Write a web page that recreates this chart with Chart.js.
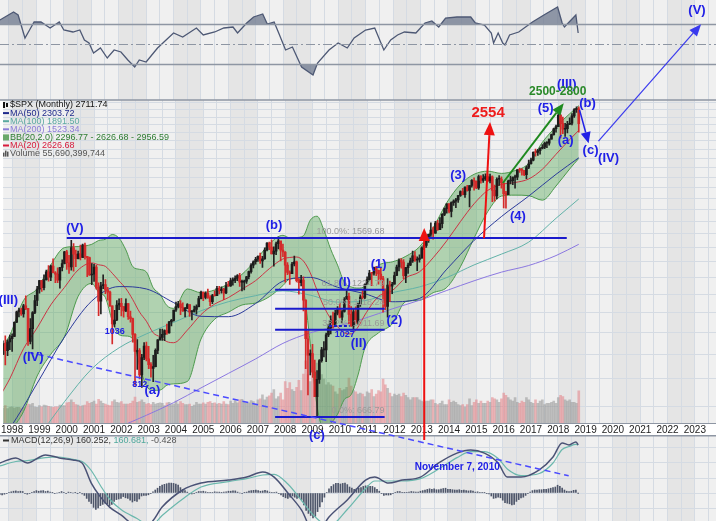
<!DOCTYPE html>
<html><head><meta charset="utf-8">
<script src="https://cdn.jsdelivr.net/npm/chart.js@4.4.1/dist/chart.umd.min.js"></script>
<style>
html,body{margin:0;padding:0;background:#fff;}
#wrap{position:relative;width:716px;height:521px;overflow:hidden;}
canvas{position:absolute;left:0;}
#rsi{top:0;z-index:1}
#macd{top:435px;z-index:1}
#main{top:0;z-index:2}
</style></head><body>
<div id="wrap">
<canvas id="rsi" width="716" height="100"></canvas>
<canvas id="macd" width="716" height="86"></canvas>
<canvas id="main" width="716" height="521"></canvas>
</div>
<script>
// ================= DATA (monthly $SPX, Aug 1997 - Oct 2018) =================
const START_YEAR = 1997, START_MONTH = 8;
const FIRST_OPEN = 954;
const CLOSE = [
 899,947,915,955,970,
 980,1049,1102,1112,1091,1134,1121,957,1017,1099,1164,1229,
 1280,1238,1286,1335,1302,1373,1329,1320,1283,1363,1389,1469,
 1394,1366,1499,1452,1421,1455,1431,1518,1437,1429,1315,1320,
 1366,1240,1160,1249,1256,1224,1211,1134,1041,1060,1139,1148,
 1130,1107,1147,1077,1067,990,912,916,815,886,936,880,
 856,841,848,917,964,975,990,1008,996,1051,1058,1112,
 1131,1145,1126,1107,1121,1141,1102,1104,1115,1130,1174,1212,
 1181,1204,1181,1157,1192,1191,1234,1220,1229,1207,1249,1248,
 1280,1281,1295,1311,1270,1270,1277,1304,1336,1378,1401,1418,
 1438,1407,1421,1482,1531,1503,1455,1474,1527,1549,1481,1468,
 1379,1331,1323,1386,1400,1280,1267,1283,1166,969,896,903,
 826,735,798,873,919,919,987,1021,1057,1036,1096,1115,
 1074,1104,1169,1187,1089,1031,1102,1049,1141,1183,1181,1258,
 1286,1327,1326,1364,1345,1321,1292,1219,1131,1253,1247,1258,
 1312,1366,1408,1398,1310,1362,1379,1407,1441,1412,1416,1426,
 1498,1515,1569,1598,1631,1606,1686,1633,1682,1757,1806,1848,
 1783,1859,1872,1884,1924,1960,1931,2003,1972,2018,2068,2059,
 1995,2105,2068,2086,2107,2063,2104,1972,1920,2079,2080,2044,
 1940,1932,2060,2065,2097,2099,2174,2171,2168,2126,2199,2239,
 2279,2364,2363,2384,2412,2423,2470,2472,2519,2575,2648,2674,
 2824,2714,2641,2648,2705,2718,2816,2902,2914,2711.74
];
const HIGH = [
 961,960,983,964,986,
 992,1051,1106,1123,1122,1143,1190,1121,1067,1104,1193,1245,
 1282,1282,1316,1347,1376,1379,1421,1336,1361,1364,1414,1473,
 1479,1445,1553,1528,1481,1475,1517,1525,1531,1437,1433,1389,
 1383,1377,1267,1269,1316,1286,1239,1218,1135,1111,1164,1173,
 1176,1131,1173,1147,1106,1070,994,965,925,900,952,954,
 935,865,895,924,965,1015,1015,1011,1040,1053,1063,1112,
 1155,1159,1164,1151,1127,1147,1141,1109,1133,1140,1188,1217,
 1212,1213,1229,1192,1199,1219,1246,1245,1243,1233,1270,1275,
 1295,1297,1310,1318,1326,1284,1283,1306,1340,1389,1407,1431,
 1441,1461,1438,1498,1535,1540,1556,1504,1539,1576,1545,1524,
 1471,1396,1342,1397,1440,1405,1292,1313,1304,1167,1007,919,
 944,875,832,877,930,956,996,1039,1081,1101,1111,1130,
 1150,1112,1180,1220,1206,1131,1120,1129,1150,1196,1227,1263,
 1303,1344,1332,1366,1371,1346,1357,1307,1230,1293,1277,1270,
 1333,1378,1420,1422,1415,1364,1392,1426,1475,1471,1434,1448,
 1504,1531,1570,1600,1687,1654,1699,1709,1730,1765,1814,1849,
 1850,1867,1884,1897,1925,1968,1991,2005,2019,2018,2075,2094,
 2064,2120,2117,2125,2135,2130,2132,2113,2021,2094,2117,2104,
 2038,1962,2072,2111,2103,2120,2178,2194,2188,2169,2214,2278,
 2300,2371,2401,2399,2419,2454,2484,2491,2520,2582,2657,2694,
 2873,2835,2801,2718,2742,2791,2848,2917,2941,2940
];
const LOW = [
 893,898,855,894,920,
 912,979,1047,1076,1084,1075,1114,939,946,923,1093,1136,
 1205,1216,1225,1282,1277,1280,1328,1268,1268,1234,1341,1387,
 1350,1325,1346,1339,1369,1420,1413,1429,1419,1305,1312,1255,
 1275,1228,1082,1092,1232,1203,1165,1131,945,1026,1057,1114,
 1081,1074,1103,1063,1049,953,776,837,800,768,877,872,
 840,806,789,847,902,963,962,960,990,995,1031,1054,
 1105,1123,1088,1105,1076,1119,1079,1060,1101,1090,1128,1173,
 1163,1173,1176,1136,1146,1188,1191,1201,1205,1168,1202,1245,
 1245,1253,1268,1280,1245,1219,1224,1263,1290,1327,1360,1385,
 1403,1389,1364,1416,1476,1484,1454,1371,1449,1489,1407,1435,
 1270,1317,1257,1324,1373,1272,1200,1248,1107,840,741,815,
 805,735,667,783,866,888,869,979,992,1020,1029,1086,
 1071,1045,1101,1170,1041,1028,1011,1040,1039,1131,1173,1174,
 1257,1282,1249,1314,1311,1259,1282,1101,1114,1075,1158,1203,
 1258,1310,1341,1358,1292,1267,1325,1375,1396,1403,1343,1398,
 1426,1485,1501,1536,1581,1560,1604,1627,1633,1647,1746,1767,
 1770,1737,1834,1814,1860,1915,1930,1905,1964,1821,2001,1973,
 1988,1980,2040,2048,2068,2056,2044,1867,1872,1893,2019,1993,
 1812,1810,1937,2034,2025,1992,2074,2148,2120,2115,2084,2187,
 2234,2271,2322,2329,2344,2404,2407,2418,2446,2520,2566,2605,
 2683,2533,2585,2553,2595,2699,2698,2796,2864,2604
];
// volume, billions of shares
const VOLUME_B = [
 24,26,30,25,27,
 28,26,27,27,25,27,28,33,32,34,28,27,
 30,28,31,30,29,28,27,28,28,31,30,30,
 35,36,40,36,32,31,29,30,31,37,34,36,
 38,33,41,38,34,33,31,30,37,40,36,35,
 37,33,33,33,34,38,45,36,37,40,36,33,
 34,32,36,33,34,35,34,30,35,36,32,33,
 38,33,37,34,32,32,33,29,31,36,33,33,
 35,33,36,37,34,35,33,34,33,37,33,32,
 38,34,39,35,40,41,36,34,35,39,37,33,
 40,42,49,40,45,47,52,58,42,46,52,40,
 72,60,70,58,55,62,74,56,85,108,84,72,
 78,86,104,92,84,76,66,70,66,64,54,50,
 60,56,58,62,78,64,56,54,50,52,50,46,
 54,52,58,46,50,56,54,76,66,60,52,46,
 50,48,50,46,52,48,44,40,44,44,44,40,
 38,36,38,38,40,40,34,32,34,38,32,32,
 40,36,38,36,32,30,32,28,32,42,30,36,
 40,34,38,34,34,38,36,44,42,40,36,42,
 52,48,44,40,38,44,36,34,38,36,44,40,
 36,34,40,34,38,40,32,34,34,36,38,34,
 44,48,46,40,38,40,36,36,34,55.69
];
const MACD_HIST = [
 -3,-5,-6,-4,-2,
 1,4,6,7,5,6,5,-2,-4,-2,2,5,
 8,6,7,8,5,6,3,1,-2,0,2,5,
 2,-2,3,2,0,1,-1,2,-3,-8,-18,-28,
 -35,-48,-55,-50,-42,-38,-34,-36,-42,-38,-28,-22,
 -20,-18,-12,-16,-18,-24,-30,-26,-28,-20,-10,-8,
 -8,-6,-2,4,10,16,22,26,29,31,33,33,
 32,30,26,18,12,8,3,-1,-3,-2,2,5,
 5,6,4,1,2,2,4,3,3,1,3,4,
 6,6,7,7,3,0,-1,1,3,6,8,9,
 10,8,6,7,9,7,3,1,2,3,-2,-6,
 -12,-16,-18,-14,-10,-14,-18,-16,-22,-40,-58,-68,
 -75,-83,-78,-62,-46,-30,-14,2,14,22,28,32,
 32,30,32,33,28,20,16,12,14,16,18,22,
 24,24,22,22,18,12,6,-2,-8,-6,-7,-6,
 -2,2,5,5,1,1,2,3,5,4,3,3,
 6,8,10,12,14,12,14,11,11,13,15,16,
 12,12,11,10,10,11,9,10,8,7,8,6,
 3,4,2,1,1,-2,-3,-10,-18,-16,-14,-16,
 -24,-32,-34,-36,-40,-38,-28,-22,-16,-14,-8,-2,
 3,8,10,10,11,11,12,12,14,16,18,20,
 26,22,16,10,6,5,6,9,10,-0.43
];

const BB_DATES = ['1997-08','1997-12','1998-06','1998-12','1999-06','1999-12','2000-06','2000-12','2001-03','2001-06','2001-09','2001-12','2002-03','2002-06','2002-09','2002-12','2003-03','2003-06','2003-09','2003-12','2004-06','2004-12','2005-06','2005-12','2006-06','2006-12','2007-06','2007-12','2008-03','2008-06','2008-09','2008-12','2009-03','2009-06','2009-09','2009-12','2010-03','2010-06','2010-09','2010-12','2011-06','2011-12','2012-06','2012-12','2013-06','2013-12','2014-06','2014-12','2015-06','2015-12','2016-06','2016-12','2017-06','2017-12','2018-06','2018-10'];
const MA20 = [741,801,924,1021,1140,1239,1347,1393,1381,1370,1326,1278,1232,1169,1101,1054,997,978,956,951,1010,1088,1144,1180,1229,1280,1355,1420,1430,1433,1406,1329,1222,1130,1067,1027,997,992,1025,1086,1187,1220,1298,1335,1428,1549,1698,1849,1971,2028,2047,2082,2181,2343,2514,2627];
const BB_UPPER = [925,986,1164,1231,1380,1499,1507,1523,1551,1560,1596,1568,1482,1369,1351,1334,1237,1198,1136,1121,1230,1208,1224,1260,1319,1410,1525,1590,1570,1573,1586,1709,1742,1630,1487,1379,1269,1242,1235,1246,1377,1400,1438,1505,1648,1859,2028,2129,2161,2138,2167,2242,2481,2673,2844,2957];
const BB_LOWER = [557,616,684,811,900,979,1187,1263,1211,1180,1056,988,982,969,851,774,757,758,776,781,790,968,1064,1100,1139,1150,1185,1250,1290,1293,1226,949,702,630,647,675,725,742,815,926,997,1040,1158,1165,1208,1239,1368,1569,1781,1918,1927,1922,1881,2013,2184,2297];

const MA50_DATES = ['1997-08','1997-12','1998-12','1999-12','2000-12','2001-12','2002-12','2003-12','2004-12','2005-12','2006-12','2007-12','2008-12','2009-12','2010-12','2011-12','2012-12','2013-12','2014-12','2015-12','2016-12','2017-12','2018-10'];
const MA50 = [600,632,783,977,1161,1244,1230,1152,1079,1077,1147,1277,1300,1240,1202,1157,1175,1352,1552,1739,1918,2129,2304];
const MA100_DATES = ['1998-12','1999-12','2000-12','2001-12','2002-12','2003-12','2004-12','2005-12','2006-12','2007-12','2008-12','2009-12','2010-12','2011-12','2012-12','2013-12','2014-12','2015-12','2016-12','2017-12','2018-10'];
const MA100 = [600,717,839,928,992,1048,1108,1157,1191,1219,1194,1155,1163,1208,1242,1299,1380,1453,1539,1725,1892];
const MA200_DATES = ['2001-12','2002-12','2003-12','2004-12','2005-12','2006-12','2007-12','2008-12','2009-12','2010-12','2011-12','2012-12','2013-12','2014-12','2015-12','2016-12','2017-12','2018-10'];
const MA200 = [635,672,714,766,821,880,948,997,1029,1069,1118,1165,1221,1279,1333,1376,1443,1523];

const RSI_DATES = ['1997-09','1998-03','1998-05','1998-08','1998-10','1998-12','1999-03','1999-07','1999-11','2000-01','2000-05','2000-08','2000-10','2000-12','2001-02','2001-05','2001-08','2001-11','2002-02','2002-05','2002-08','2002-10','2003-01','2003-06','2004-01','2004-05','2004-11','2005-02','2005-07','2005-11','2006-03','2006-05','2006-09','2006-12','2007-04','2007-06','2007-09','2007-11','2008-02','2008-05','2008-09','2009-02','2009-04','2009-09','2010-01','2010-05','2010-08','2011-01','2011-05','2011-09','2011-12','2012-03','2012-06','2012-11','2013-03','2013-06','2013-09','2013-12','2014-05','2014-11','2015-01','2015-05','2015-08','2015-09','2015-11','2016-01','2016-02','2016-04','2016-08','2016-11','2017-02','2017-07','2018-01','2018-03','2018-04','2018-09','2018-10'];
const RSI = [74,82,79,56,64,72,72,66,72,64,62,64,54,51,41,46,36,44,42,34,27,34,32,46,61,57,66,59,62,66,67,61,71,77,80,70,72,61,44,47,27,19,31,44,51,46,56,64,66,44,54,59,62,61,71,73,67,76,77,77,71,69,61,51,61,51,49,59,62,67,72,79,87,71,67,79,61];

const MACD_DATES = ['1997-09','1998-04','1998-09','1999-05','1999-11','2000-05','2000-09','2001-01','2001-05','2001-09','2002-02','2002-09','2003-03','2003-08','2004-05','2005-01','2006-01','2006-09','2007-04','2007-09','2008-03','2008-09','2009-03','2009-09','2010-05','2011-01','2011-05','2011-11','2012-05','2013-01','2013-09','2014-05','2014-11','2015-05','2015-11','2016-03','2016-09','2017-05','2017-11','2018-03','2018-06','2018-09','2018-10'];
const MACD_LINE = [100,117,100,127,117,110,100,33,-13,-47,-73,-110,-100,-47,10,33,43,53,70,53,0,-57,-140,-80,-23,43,53,33,43,53,100,133,143,133,100,53,53,77,120,167,160,170,160.25];
const MACD_SIGNAL = [90,105,108,118,120,112,105,75,25,-20,-55,-85,-110,-75,-20,20,38,48,60,62,30,-25,-80,-110,-55,15,40,40,40,48,80,118,138,138,115,80,58,65,100,145,155,162,160.68];

const YEAR_TICKS = [1998,1999,2000,2001,2002,2003,2004,2005,2006,2007,2008,2009,2010,2011,2012,2013,2014,2015,2016,2017,2018,2019,2020,2021,2022,2023];
const PRICE_GRID = [700,800,900,1000,1100,1200,1300,1400,1500,1600,1700,1800,1900,2000,2100,2200,2300,2400,2500,2600,2700,2800,2900,3000];
const SHADED_YEARS = [1998,2000,2002,2004,2006,2008,2010,2012,2014,2016,2018,2020,2022];

// ================= helpers =================
const XMIN = 1997.673, XMAX = 2023.775;
const FONT = '"Liberation Sans", Arial, sans-serif';
const toDec = s => { const [y,m] = s.split('-').map(Number); return y + (m-1)/12; };
const pts = (d, v) => d.map((s,i)=>({x:toDec(s), y:v[i]}));
const MX = CLOSE.map((_,i)=> START_YEAR + (START_MONTH-1+i)/12);
const OPEN = CLOSE.map((c,i)=> i===0 ? FIRST_OPEN : CLOSE[i-1]);
const UP = CLOSE.map((c,i)=> c >= OPEN[i]);
const GRID_X = [];
for (let y = 1998; y <= 2023.5; y += 0.5) GRID_X.push(y);

function xScale(labels){
  return {
    type:'linear', min:XMIN, max:XMAX, offset:false,
    afterBuildTicks: s => { s.ticks = GRID_X.map(v=>({value:v})); },
    afterFit: s => { s.height = labels ? 12 : 0; },
    grid:{color:'#d5dbe3', lineWidth:1, drawTicks:false, offset:false},
    border:{display:labels, color:'#8e96a3', width:1},
    ticks:{display:labels, autoSkip:false, maxRotation:0, minRotation:0, padding:1, color:'#222',
      font:{size:10, family:FONT},
      callback: v => YEAR_TICKS.includes(v) ? String(v) : ''}
  };
}
function bands(c){
  const {ctx, chartArea:a, scales:{x}} = c;
  ctx.save();
  ctx.fillStyle = '#f0f0f0';
  ctx.fillRect(a.left, a.top, a.width, a.height);
  ctx.fillStyle = '#e5e5e5';
  for (const yr of SHADED_YEARS){
    const x0 = Math.max(a.left, x.getPixelForValue(yr));
    const x1 = Math.min(a.right, x.getPixelForValue(yr+1));
    if (x1 > x0) ctx.fillRect(x0, a.top, x1-x0, a.height);
  }
  ctx.restore();
}
function arrow(ctx, x0,y0,x1,y1, color, lw, hl, hw){
  const a = Math.atan2(y1-y0, x1-x0);
  const bx = x1 - hl*Math.cos(a), by = y1 - hl*Math.sin(a);
  ctx.strokeStyle = color; ctx.lineWidth = lw; ctx.setLineDash([]);
  ctx.beginPath(); ctx.moveTo(x0,y0); ctx.lineTo(bx,by); ctx.stroke();
  ctx.fillStyle = color; ctx.beginPath(); ctx.moveTo(x1,y1);
  ctx.lineTo(bx + hw/2*Math.sin(a), by - hw/2*Math.cos(a));
  ctx.lineTo(bx - hw/2*Math.sin(a), by + hw/2*Math.cos(a));
  ctx.closePath(); ctx.fill();
}
const common = {responsive:false, animation:false, devicePixelRatio:1, events:[],
  plugins:{legend:{display:false}, tooltip:{enabled:false}}};

// ================= annotations (data coordinates) =================
const BLUE = '#2020e6';
const WAVE_LABELS = [
 ['(III)',1997.86,1166],['(V)',2000.30,1646],['(IV)',1998.77,888],['(a)',2003.14,758],
 ['(b)',2007.59,1670],['(c)',2009.16,611],['(I)',2010.18,1271],['(1)',2011.42,1386],
 ['(2)',2012.0,1060],['(II)',2010.69,949],['(3)',2014.33,2121],['(4)',2016.52,1743],
 ['(5)',2017.54,2923],['(III)',2018.31,3279],['(b)',2019.07,2992],['(a)',2018.27,2507],
 ['(c)',2019.18,2390],['(IV)',2019.84,2300],['(V)',2023.08,4671]
];
const SMALL_LABELS = [['1036',2001.76,1001],['812',2002.67,777],['1027',2010.18,987]];
const FIB = [['100.0%: 1569.68',1569.68],['61.8%: 1224.79',1224.79],['50.0%: 1118.24',1118.24],['38.2%: 1011.69',1011.69],['0.0%: 666.79',666.79]];

const mainDecor = {
  id:'mainDecor',
  beforeDraw(c){ bands(c); },
  afterDraw(c){
    const {ctx, chartArea:a, scales:{x, y}} = c;
    const X = v => x.getPixelForValue(v), Y = p => y.getPixelForValue(p);
    ctx.save();
    // panel top border
    ctx.strokeStyle = '#8e96a3'; ctx.lineWidth = 1.5;
    ctx.beginPath(); ctx.moveTo(0, a.top); ctx.lineTo(716, a.top); ctx.stroke();
    // long resistance line
    ctx.strokeStyle = '#1a1acc'; ctx.lineWidth = 2;
    ctx.beginPath(); ctx.moveTo(X(2000.0), Y(1569.68)); ctx.lineTo(X(2018.31), Y(1569.68)); ctx.stroke();
    // fib lines
    for (const [t,p] of FIB.slice(1)){
      ctx.beginPath(); ctx.moveTo(X(2007.63), Y(p)); ctx.lineTo(X(2011.64), Y(p)); ctx.stroke();
    }
    ctx.fillStyle = '#9a9a9a'; ctx.font = '9px ' + FONT; ctx.textAlign = 'right'; ctx.textBaseline = 'bottom';
    for (const [t,p] of FIB) ctx.fillText(t, X(2011.64), Y(p) - 2);
    // short dashed 1027 marker
    ctx.strokeStyle = '#1a1acc'; ctx.lineWidth = 2; ctx.setLineDash([3,2]);
    ctx.beginPath(); ctx.moveTo(X(2009.6), Y(1030)); ctx.lineTo(X(2010.36), Y(1030)); ctx.stroke();
    // dashed trend line
    ctx.strokeStyle = '#4a4aff'; ctx.lineWidth = 1.5; ctx.setLineDash([6,4]);
    ctx.beginPath(); ctx.moveTo(X(1998.58), Y(909)); ctx.lineTo(X(2018.38), Y(503)); ctx.stroke();
    ctx.setLineDash([]);
    // arrows
    arrow(ctx, X(2013.09), Y(597), X(2013.09), Y(1646), '#ee1111', 2, 13, 11);
    arrow(ctx, X(2015.28), Y(1568), X(2015.5), Y(2733), '#ee1111', 2, 13, 11);
    arrow(ctx, X(2015.97), Y(2042), X(2018.2), Y(2992), '#1f8a1f', 2, 12, 10);
    arrow(ctx, X(2018.78), Y(2894), X(2019.11), Y(2471), BLUE, 1.5, 11, 10);
    arrow(ctx, X(2019.47), Y(2495), X(2023.23), Y(4367), '#3a3aee', 1.2, 12, 10);
    // labels
    ctx.textAlign = 'center'; ctx.textBaseline = 'middle';
    ctx.fillStyle = BLUE; ctx.font = 'bold 13px ' + FONT;
    for (const [t,d,p] of WAVE_LABELS) ctx.fillText(t, X(d), Y(p));
    ctx.font = 'bold 9px ' + FONT;
    for (const [t,d,p] of SMALL_LABELS) ctx.fillText(t, X(d), Y(p));
    ctx.font = 'bold 10px ' + FONT;
    ctx.fillText('November 7, 2010', X(2014.3), Y(524));
    ctx.fillStyle = '#2a8a2a'; ctx.font = 'bold 12px ' + FONT;
    ctx.fillText('2500-2800', X(2017.98), Y(3155));
    ctx.fillStyle = '#ee1c1c'; ctx.font = 'bold 15px ' + FONT;
    ctx.fillText('2554', X(2015.43), Y(2854));
    // legend
    const L = [
      ['$SPX (Monthly) 2711.74','#111','bar'],
      ['MA(50) 2303.72','#1f2a8c','line'],
      ['MA(100) 1891.50','#5aa9a0','line'],
      ['MA(200) 1523.34','#8c7cd8','line'],
      ['BB(20,2.0) 2296.77 - 2626.68 - 2956.59','#2e7d32','bb'],
      ['MA(20) 2626.68','#d81b3c','line'],
      ['Volume 55,690,399,744','#555','vol']
    ];
    ctx.font = '9px ' + FONT; ctx.textAlign = 'left'; ctx.textBaseline = 'middle';
    L.forEach(([t,col,k],i)=>{
      const yy = 105 + i*8.1;
      ctx.fillStyle = col; ctx.strokeStyle = col;
      if (k === 'line'){ ctx.lineWidth = 2; ctx.beginPath(); ctx.moveTo(3,yy); ctx.lineTo(9,yy); ctx.stroke(); }
      else if (k === 'bar'){ ctx.fillRect(3,yy-3,2,6); ctx.fillRect(6,yy-2,2,4); }
      else if (k === 'bb'){ ctx.fillStyle='#6aa96a'; ctx.fillRect(3,yy-3,6,6); ctx.fillStyle = col; }
      else { ctx.fillRect(3,yy-1,1.5,4); ctx.fillRect(5,yy-3,1.5,6); ctx.fillRect(7,yy-2,1.5,5); }
      ctx.fillText(t, 10, yy);
    });
    ctx.restore();
  }
};

// ================= main price panel =================
new Chart(document.getElementById('main'), {
  type:'line',
  data:{datasets:[
    {type:'bar', label:'Volume', yAxisID:'yv', order:10, grouped:false, barThickness:2,
     data: MX.map((x,i)=>({x, y:VOLUME_B[i]})),
     backgroundColor: UP.map(u => u ? 'rgba(150,150,150,0.55)' : 'rgba(228,130,135,0.55)')},
    {label:'BB upper', order:9, data: pts(BB_DATES, BB_UPPER), borderColor:'#4f9a4f', borderWidth:1,
     pointRadius:0, cubicInterpolationMode:'monotone', fill:'+1', backgroundColor:'rgba(70,160,70,0.38)'},
    {label:'BB lower', order:9, data: pts(BB_DATES, BB_LOWER), borderColor:'#4f9a4f', borderWidth:1,
     pointRadius:0, cubicInterpolationMode:'monotone', fill:false},
    {label:'MA200', order:6, data: pts(MA200_DATES, MA200), borderColor:'#8b78e0', borderWidth:1, pointRadius:0, cubicInterpolationMode:'monotone', fill:false},
    {label:'MA100', order:6, data: pts(MA100_DATES, MA100), borderColor:'#62b2a8', borderWidth:1, pointRadius:0, cubicInterpolationMode:'monotone', fill:false},
    {label:'MA50', order:5, data: pts(MA50_DATES, MA50), borderColor:'#2b3a9a', borderWidth:1, pointRadius:0, cubicInterpolationMode:'monotone', fill:false},
    {label:'MA20', order:5, data: pts(BB_DATES, MA20), borderColor:'#cc3344', borderWidth:1, pointRadius:0, cubicInterpolationMode:'monotone', fill:false},
    {type:'bar', label:'wick', order:2, grouped:false, barThickness:1,
     data: MX.map((x,i)=>({x, y:[LOW[i], HIGH[i]]})),
     backgroundColor: UP.map(u => u ? '#222' : '#d42a2a')},
    {type:'bar', label:'body', order:1, grouped:false, barThickness:2, minBarLength:1,
     data: MX.map((x,i)=>({x, y:[OPEN[i], CLOSE[i]]})),
     backgroundColor: UP.map(u => u ? '#1c1c1c' : '#d42a2a')}
  ]},
  options:{...common,
    layout:{padding:{top:100, bottom:86, left:0, right:0}},
    scales:{
      x: xScale(true),
      y: {type:'logarithmic', min:647.6, max:3038, display:true, beginAtZero:false,
          afterBuildTicks: s => { s.ticks = PRICE_GRID.map(v=>({value:v})); },
          afterFit: s => { s.width = 0; },
          grid:{color:'#d5dbe3', drawTicks:false}, border:{display:false}, ticks:{display:false}},
      yv: {type:'linear', min:0, max:560, display:false}
    }
  },
  plugins:[mainDecor]
});

// ================= RSI panel =================
const rsiDecor = {
  id:'rsiDecor',
  beforeDraw(c){ bands(c); },
  afterDatasetsDraw(c){
    const {ctx, scales:{y}} = c;
    ctx.save(); ctx.strokeStyle = '#8e96a3';
    for (const v of [70,30]){ ctx.lineWidth=1.5; ctx.beginPath(); ctx.moveTo(0,Math.round(y.getPixelForValue(v))+0.5); ctx.lineTo(716,Math.round(y.getPixelForValue(v))+0.5); ctx.stroke(); }
    ctx.lineWidth = 1; ctx.setLineDash([9,3,2,3]);
    ctx.beginPath(); ctx.moveTo(0,Math.round(y.getPixelForValue(50))+0.5); ctx.lineTo(716,Math.round(y.getPixelForValue(50))+0.5); ctx.stroke();
    ctx.restore();
  }
};
new Chart(document.getElementById('rsi'), {
  type:'line',
  data:{datasets:[
    {data: pts(RSI_DATES, RSI), borderColor:'#4d5874', borderWidth:1.3, pointRadius:0, tension:0,
     fill:{target:{value:70}, above:'rgba(110,120,142,0.75)', below:'rgba(0,0,0,0)'}},
    {data: pts(RSI_DATES, RSI), borderColor:'rgba(0,0,0,0)', borderWidth:0, pointRadius:0, tension:0,
     fill:{target:{value:30}, above:'rgba(0,0,0,0)', below:'rgba(110,120,142,0.75)'}}
  ]},
  options:{...common,
    scales:{ x: xScale(false), y:{type:'linear', min:-6, max:94, display:false} }
  },
  plugins:[rsiDecor]
});

// ================= MACD panel =================
const macdDecor = {
  id:'macdDecor',
  beforeDraw(c){ bands(c); },
  afterDraw(c){
    const {ctx} = c;
    ctx.save();
    ctx.strokeStyle = '#8e96a3'; ctx.lineWidth = 1.5;
    ctx.beginPath(); ctx.moveTo(0,0.75); ctx.lineTo(716,0.75); ctx.stroke();
    ctx.strokeStyle = '#333'; ctx.lineWidth = 2;
    ctx.beginPath(); ctx.moveTo(3,5.5); ctx.lineTo(9,5.5); ctx.stroke();
    ctx.font = '9px ' + FONT; ctx.textBaseline = 'middle'; ctx.textAlign = 'left';
    let xx = 11;
    for (const [t,col] of [['MACD(12,26,9) 160.252, ','#333'],['160.681, ','#4fa89c'],['-0.428','#555']]){
      ctx.fillStyle = col; ctx.fillText(t, xx, 6); xx += ctx.measureText(t).width;
    }
    ctx.restore();
  }
};
new Chart(document.getElementById('macd'), {
  type:'line',
  data:{datasets:[
    {type:'bar', order:3, grouped:false, barThickness:1, data: MX.map((x,i)=>({x, y:MACD_HIST[i]})), backgroundColor:'#4e566a'},
    {order:2, data: pts(MACD_DATES, MACD_SIGNAL), borderColor:'#6bb8ad', borderWidth:1.2, pointRadius:0, cubicInterpolationMode:'monotone', fill:false},
    {order:1, data: pts(MACD_DATES, MACD_LINE), borderColor:'#4a5275', borderWidth:1.5, pointRadius:0, cubicInterpolationMode:'monotone', fill:false}
  ]},
  options:{...common,
    scales:{
      x: xScale(false),
      y:{type:'linear', min:-93.3, max:193.3, display:true,
         afterBuildTicks: s => { s.ticks = [-50,0,50,100,150].map(v=>({value:v})); },
         afterFit: s => { s.width = 0; },
         grid:{color:'#d5dbe3', drawTicks:false}, border:{display:false}, ticks:{display:false}}
    }
  },
  plugins:[macdDecor]
});
</script></body></html>
